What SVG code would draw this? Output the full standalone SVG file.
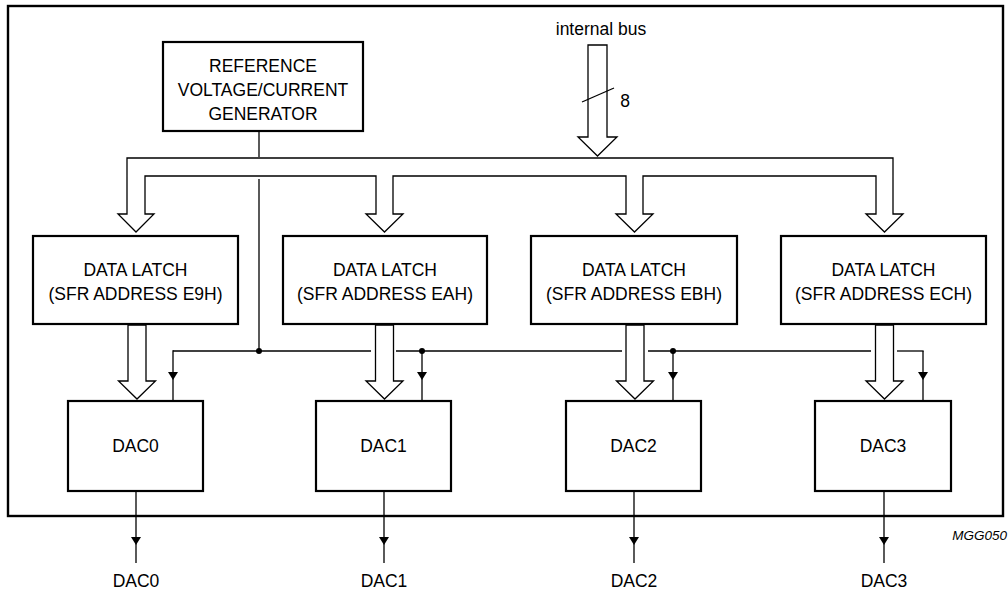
<svg xmlns="http://www.w3.org/2000/svg" width="1008" height="595" viewBox="0 0 1008 595">
<style>
  .box { fill: #fff; stroke: #000; stroke-width: 2.2; }
  .frame { fill: none; stroke: #000; stroke-width: 2.4; }
  .bus { fill: #fff; stroke: #000; stroke-width: 1.3; stroke-linejoin: miter; }
  .wire { fill: none; stroke: #000; stroke-width: 1.3; }
  .t { font-family: "Liberation Sans", Arial, sans-serif; font-size: 17.5px; fill: #000; text-anchor: middle; }
  .dot { fill: #000; }
</style>
<defs>
  <marker id="tri" viewBox="0 0 8 10" refX="8" refY="5" markerWidth="8" markerHeight="10" markerUnits="userSpaceOnUse" orient="auto">
    <path d="M0,0 L8,5 L0,10 Z" fill="#000"/>
  </marker>
</defs>
<rect class="frame" x="8" y="6" width="995" height="510"/>

<g id="connectors">
  <!-- internal bus -->
  <path class="bus" d="M588,45 L607,45 L607,137 L617,137 L597.5,156 L578,137 L588,137 Z"/>
  <line class="wire" x1="582" y1="102" x2="614" y2="88"/>
  <!-- distribution bus -->
  <path class="bus" d="M127,214 L118,214 L136,232 L154,214 L145,214 L145,176 L376,176 L376,214 L366,214 L384.5,232 L403,214 L393,214 L393,176 L626,176 L626,214 L616,214 L634.5,232 L653,214 L643,214 L643,176 L876,176 L876,214 L866,214 L884.5,232 L903,214 L893,214 L893,158 L127,158 Z"/>
  <!-- latch to DAC buses -->
  <path class="bus" d="M128,325 L146,325 L146,381 L155.5,381 L137,399 L118.5,381 L128,381 Z"/>
  <path class="bus" d="M375.5,325 L393.5,325 L393.5,381 L403,381 L384.5,399 L366,381 L375.5,381 Z"/>
  <path class="bus" d="M626,325 L644,325 L644,381 L653.5,381 L635,399 L616.5,381 L626,381 Z"/>
  <path class="bus" d="M875.5,325 L893.5,325 L893.5,381 L903,381 L884.5,399 L866,381 L875.5,381 Z"/>
  <!-- reference lines -->
  <line class="wire" x1="259" y1="131" x2="259" y2="157"/>
  <line class="wire" x1="259" y1="179" x2="259" y2="351"/>
  <line class="wire" x1="173" y1="351" x2="371" y2="351"/>
  <line class="wire" x1="396" y1="351" x2="622" y2="351"/>
  <line class="wire" x1="648" y1="351" x2="871" y2="351"/>
  <line class="wire" x1="897" y1="351" x2="923.65" y2="351"/>
  <path class="wire" d="M923,351 L923,380 L923,401" marker-mid="url(#tri)"/>
  <path class="wire" d="M173,350.35 L173,380 L173,401" marker-mid="url(#tri)"/>
  <path class="wire" d="M422,351 L422,380 L422,401" marker-mid="url(#tri)"/>
  <path class="wire" d="M673,351 L673,380 L673,401" marker-mid="url(#tri)"/>
  <circle class="dot" cx="259" cy="351" r="3"/>
  <circle class="dot" cx="422" cy="351" r="3"/>
  <circle class="dot" cx="673" cy="351" r="3"/>
  <!-- outputs -->
  <path class="wire" d="M136,491 L136,545 L136,563" marker-mid="url(#tri)"/>
  <path class="wire" d="M384,491 L384,545 L384,563" marker-mid="url(#tri)"/>
  <path class="wire" d="M634,491 L634,545 L634,563" marker-mid="url(#tri)"/>
  <path class="wire" d="M884,491 L884,545 L884,563" marker-mid="url(#tri)"/>
</g>

<text class="t" x="601" y="35">internal bus</text>
<text class="t" x="625" y="107">8</text>

<g id="refgen">
  <rect class="box" x="163" y="42" width="200" height="89"/>
  <text class="t" x="263" y="72">REFERENCE</text>
  <text class="t" x="263" y="96">VOLTAGE/CURRENT</text>
  <text class="t" x="263" y="120">GENERATOR</text>
</g>

<g id="latch0">
  <rect class="box" x="33" y="236" width="205" height="88"/>
  <text class="t" x="135.5" y="276">DATA LATCH</text>
  <text class="t" x="135.5" y="300">(SFR ADDRESS E9H)</text>
</g>
<g id="latch1">
  <rect class="box" x="283" y="236" width="204" height="88"/>
  <text class="t" x="385" y="276">DATA LATCH</text>
  <text class="t" x="385" y="300">(SFR ADDRESS EAH)</text>
</g>
<g id="latch2">
  <rect class="box" x="531" y="236" width="206" height="88"/>
  <text class="t" x="634" y="276">DATA LATCH</text>
  <text class="t" x="634" y="300">(SFR ADDRESS EBH)</text>
</g>
<g id="latch3">
  <rect class="box" x="781" y="236" width="205" height="88"/>
  <text class="t" x="883.5" y="276">DATA LATCH</text>
  <text class="t" x="883.5" y="300">(SFR ADDRESS ECH)</text>
</g>

<g id="dac0">
  <rect class="box" x="68" y="401" width="135" height="90"/>
  <text class="t" x="135.5" y="452">DAC0</text>
</g>
<g id="dac1">
  <rect class="box" x="316" y="401" width="135" height="90"/>
  <text class="t" x="383.5" y="452">DAC1</text>
</g>
<g id="dac2">
  <rect class="box" x="566" y="401" width="135" height="90"/>
  <text class="t" x="633.5" y="452">DAC2</text>
</g>
<g id="dac3">
  <rect class="box" x="815" y="401" width="136" height="90"/>
  <text class="t" x="883" y="452">DAC3</text>
</g>

<text class="t" x="136" y="587">DAC0</text>
<text class="t" x="384" y="587">DAC1</text>
<text class="t" x="634" y="587">DAC2</text>
<text class="t" x="884" y="587">DAC3</text>
<text x="1007" y="540" style="font-family:'Liberation Sans', Arial, sans-serif; font-size:13.5px; font-style:italic; text-anchor:end; fill:#000">MGG050</text>
</svg>
